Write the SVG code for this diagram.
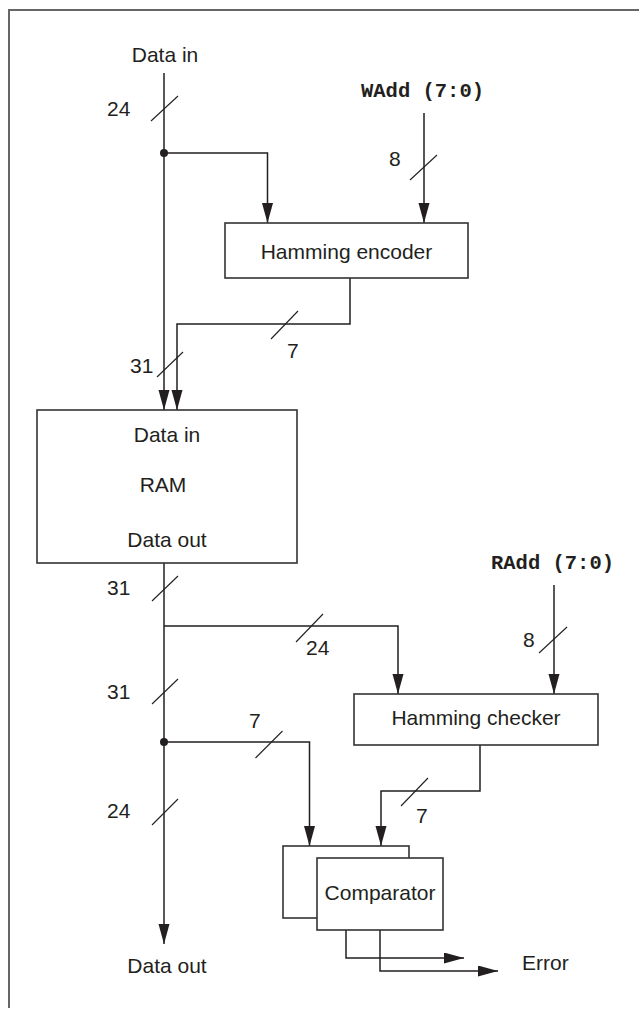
<svg xmlns="http://www.w3.org/2000/svg" width="639" height="1009" viewBox="0 0 639 1009">
<style>
  .t { font-family: "Liberation Sans", Arial, sans-serif; font-size: 21px; fill: #231f20; }
  .m { font-family: "Liberation Mono", "Courier New", monospace; font-size: 20.5px; font-weight: bold; fill: #231f20; }
  .mid { text-anchor: middle; }
  .box { fill: #fff; stroke: #333; stroke-width: 1.6; }
  .wire { fill: none; stroke: #231f20; stroke-width: 1.5; marker-end: url(#arr); }
  .wire2 { fill: none; stroke: #231f20; stroke-width: 1.5; }
  .sl { stroke: #231f20; stroke-width: 1.1; }
  .frame { fill: none; stroke: #666; stroke-width: 2; }
</style>
<defs>
  <marker id="arr" markerUnits="userSpaceOnUse" markerWidth="22" markerHeight="12" refX="20" refY="5.5" orient="auto">
    <path d="M0,0 L20,5.5 L0,11 Z" fill="#231f20"/>
  </marker>
</defs>
<rect width="639" height="1009" fill="#fff"/>
<path class="frame" d="M9,1008 V10 H639"/>

<g id="connectors">
  <path class="wire" d="M164,73 V410"/>
  <path class="wire" d="M164,153 H267.5 V223"/>
  <path class="wire" d="M424,113 V223"/>
  <path class="wire" d="M350,278 V324 H177 V410"/>
  <path class="wire" d="M164,563 V944"/>
  <path class="wire" d="M164,626 H398 V694"/>
  <path class="wire" d="M554,585 V694"/>
  <path class="wire" d="M164,742 H309.5 V846"/>
  <path class="wire" d="M480,745 V791 H381 V846"/>
  <path class="wire" d="M346,930 V958 H464"/>
  <path class="wire" d="M380,930 V971 H498"/>
  <circle cx="164" cy="153" r="4" fill="#231f20"/>
  <circle cx="164" cy="742" r="4" fill="#231f20"/>
  <line class="sl" x1="151" y1="121" x2="178" y2="96"/>
  <line class="sl" x1="410" y1="180" x2="437" y2="155"/>
  <line class="sl" x1="271" y1="339" x2="298" y2="311"/>
  <line class="sl" x1="157" y1="377" x2="183" y2="352"/>
  <line class="sl" x1="152" y1="601" x2="178" y2="576"/>
  <line class="sl" x1="296" y1="642" x2="323" y2="614"/>
  <line class="sl" x1="539" y1="653" x2="567" y2="627"/>
  <line class="sl" x1="152" y1="704" x2="178" y2="679"/>
  <line class="sl" x1="255.5" y1="758" x2="282.5" y2="731"/>
  <line class="sl" x1="401" y1="806" x2="428" y2="778"/>
  <line class="sl" x1="152" y1="825" x2="178" y2="799"/>
  <text class="t" x="107" y="116">24</text>
  <text class="t" x="389" y="166">8</text>
  <text class="t" x="287" y="358">7</text>
  <text class="t" x="130" y="373">31</text>
  <text class="t" x="107" y="595">31</text>
  <text class="t" x="306" y="655">24</text>
  <text class="t" x="523" y="647">8</text>
  <text class="t" x="107" y="699">31</text>
  <text class="t" x="249" y="728">7</text>
  <text class="t" x="416" y="823">7</text>
  <text class="t" x="107" y="818">24</text>
</g>

<g id="data-in">
  <text class="t mid" x="165" y="62">Data in</text>
</g>
<g id="wadd">
  <text class="m mid" x="422.5" y="97">WAdd (7:0)</text>
</g>
<g id="hamming-encoder">
  <rect class="box" x="225" y="223" width="243" height="55"/>
  <text class="t mid" x="346.5" y="259">Hamming encoder</text>
</g>
<g id="ram">
  <rect class="box" x="37" y="410" width="260" height="153"/>
  <text class="t mid" x="167" y="442">Data in</text>
  <text class="t mid" x="163" y="492">RAM</text>
  <text class="t mid" x="167" y="547">Data out</text>
</g>
<g id="radd">
  <text class="m mid" x="552.5" y="569">RAdd (7:0)</text>
</g>
<g id="hamming-checker">
  <rect class="box" x="354" y="694" width="244" height="51"/>
  <text class="t mid" x="476" y="725">Hamming checker</text>
</g>
<g id="comparator">
  <rect class="box" x="283" y="846" width="126" height="72"/>
  <rect class="box" x="317" y="858" width="126" height="72"/>
  <text class="t mid" x="380" y="900">Comparator</text>
</g>
<g id="data-out">
  <text class="t mid" x="167" y="973">Data out</text>
</g>
<g id="error">
  <text class="t" x="522" y="970">Error</text>
</g>
</svg>
